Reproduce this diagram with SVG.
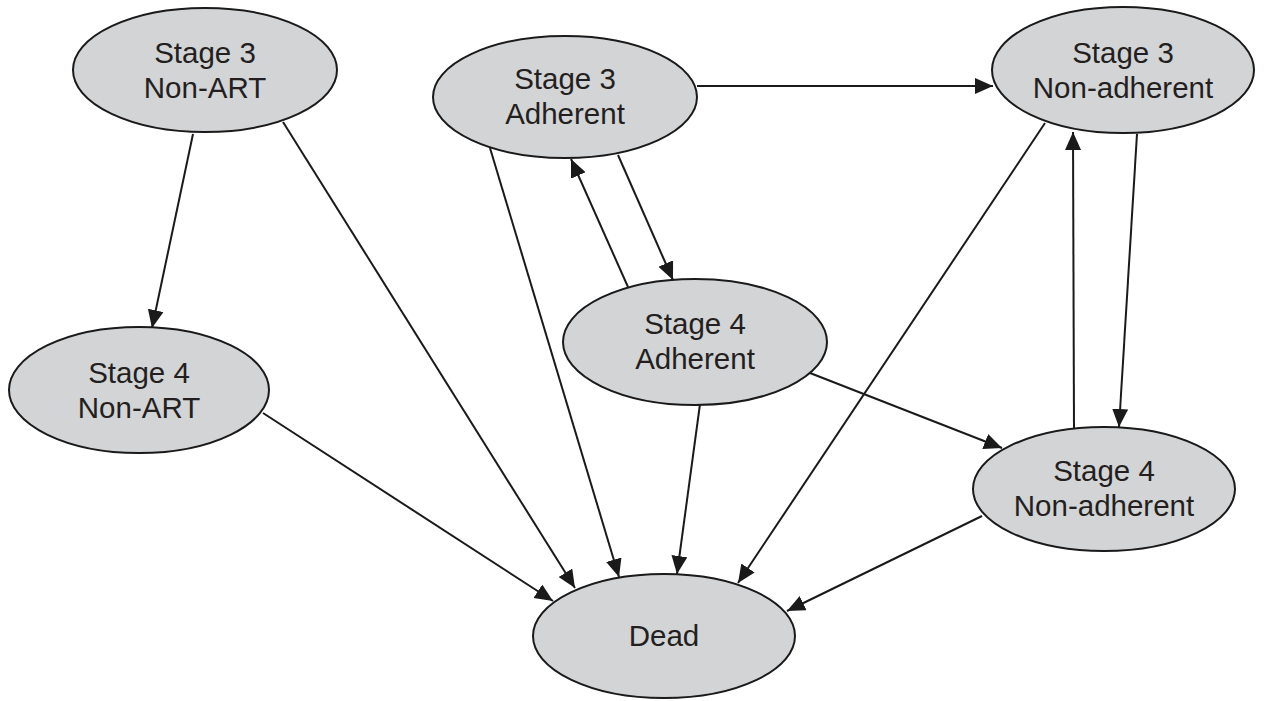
<svg xmlns="http://www.w3.org/2000/svg" width="1264" height="701" viewBox="0 0 1264 701">
<style>
.node ellipse{fill:#d3d4d6;stroke:#1a1a1a;stroke-width:2}
.node text{font-family:"Liberation Sans",Arial,sans-serif;font-size:29.5px;fill:#231f20;text-anchor:middle}
.edges line{stroke:#1a1a1a;stroke-width:2;marker-end:url(#arr)}
</style>
<defs>
<marker id="arr" markerUnits="userSpaceOnUse" markerWidth="20" markerHeight="18" refX="18" refY="8" orient="auto">
<path d="M0,0 L18,8 L0,16 z" fill="#1a1a1a"/>
</marker>
</defs>
<rect width="1264" height="701" fill="#ffffff"/>
<g class="edges">
<line x1="193" y1="134" x2="152" y2="328"/>
<line x1="283" y1="122" x2="575" y2="588"/>
<line x1="697" y1="86" x2="993" y2="86"/>
<line x1="490" y1="148" x2="619" y2="577"/>
<line x1="618" y1="155" x2="673" y2="280"/>
<line x1="628" y1="287" x2="571" y2="159"/>
<line x1="1045" y1="123" x2="738" y2="583"/>
<line x1="1074" y1="428" x2="1073" y2="132"/>
<line x1="1137" y1="134" x2="1119" y2="427"/>
<line x1="810" y1="373" x2="1002" y2="448"/>
<line x1="700" y1="404" x2="677" y2="574"/>
<line x1="263" y1="413" x2="553" y2="601"/>
<line x1="982" y1="516" x2="787" y2="611"/>
</g>
<g id="s3nonart" class="node"><ellipse cx="205" cy="70" rx="132" ry="62"/><text x="205" y="63">Stage 3</text><text x="205" y="98">Non-ART</text></g>
<g id="s3adh" class="node"><ellipse cx="565" cy="97" rx="132" ry="61"/><text x="565" y="89">Stage 3</text><text x="565" y="124">Adherent</text></g>
<g id="s3nonadh" class="node"><ellipse cx="1123" cy="70" rx="131" ry="63"/><text x="1123" y="63">Stage 3</text><text x="1123" y="98">Non-adherent</text></g>
<g id="s4nonart" class="node"><ellipse cx="139" cy="390" rx="130" ry="63"/><text x="139" y="383">Stage 4</text><text x="139" y="418">Non-ART</text></g>
<g id="s4adh" class="node"><ellipse cx="695" cy="342" rx="132" ry="63"/><text x="695" y="334">Stage 4</text><text x="695" y="369">Adherent</text></g>
<g id="s4nonadh" class="node"><ellipse cx="1104" cy="489" rx="131" ry="62"/><text x="1104" y="481">Stage 4</text><text x="1104" y="516">Non-adherent</text></g>
<g id="dead" class="node"><ellipse cx="664" cy="636" rx="131" ry="62"/><text x="664" y="646">Dead</text></g>
</svg>
